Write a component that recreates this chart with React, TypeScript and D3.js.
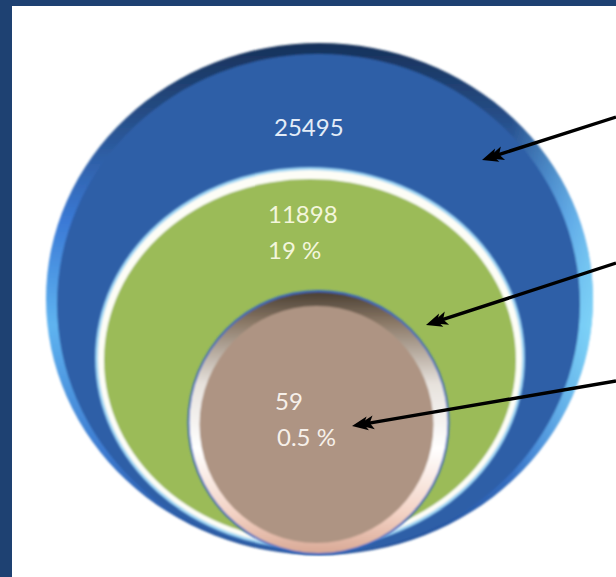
import React from 'react';
import * as d3 from 'd3';

// nested bubble values (outer -> inner)
const levels = ['outer', 'middle', 'inner'];
const counts = [25495, 11898, 59];
const shares: (number | null)[] = [null, 19, 0.5];

const W = 616;
const H = 577;
const FONT = 'Lato, "Open Sans", sans-serif';

// ellipse geometry for each level
const geo: Record<string, { cx: number; cy: number; rx: number; ry: number }> = {
  outer: { cx: 319.5, cy: 299, rx: 273.5, ry: 256 },
  middle: { cx: 310, cy: 358, rx: 212, ry: 188 },
  inner: { cx: 318.5, cy: 422.5, rx: 129, ry: 130.5 },
};

// label anchors (left x, first baseline)
const labelPos: Record<string, [number, number]> = {
  outer: [274, 136],
  middle: [268, 223],
  inner: [275, 410],
};

// callout arrows: [start, tip]
const arrows: [number, number, number, number][] = [
  [616, 117, 482, 160],
  [616, 263, 426, 325],
  [616, 381, 352, 426],
];

const fmtShare = (v: number) => `${d3.format('~g')(v)} %`;

const line = d3.line();

function Arrow({ a }: { a: [number, number, number, number] }) {
  const [x0, y0, x1, y1] = a;
  const ang = Math.atan2(y1 - y0, x1 - x0);
  const back = 10;
  const ex = x1 - Math.cos(ang) * back;
  const ey = y1 - Math.sin(ang) * back;
  const deg = (ang * 180) / Math.PI;
  return (
    <g>
      <path d={line([[x0, y0], [ex, ey]]) ?? ''} stroke="#000" strokeWidth={3.4} fill="none" />
      <g transform={`translate(${x1},${y1}) rotate(${deg})`}>
        <path d="M0,0 L-16,-7 L-12,0 L-16,7 Z" fill="#000" />
        <path d="M-6,0 L-22,-7 L-18,0 L-22,7 Z" fill="#000" />
      </g>
    </g>
  );
}

export default function App() {
  const o = geo.outer;
  const m = geo.middle;
  const n = geo.inner;
  const textFill = ['#e3ecf7', '#f3f6dc', '#f6f0ea'];

  return (
    <svg
      width={W}
      height={H}
      style={{ position: 'absolute', left: 0, top: 0, background: '#fff' }}
    >
      <defs>
        <linearGradient id="outerRim" x1="0" y1="0" x2="0" y2="1">
          <stop offset="0" stopColor="#17315a" />
          <stop offset="0.12" stopColor="#24497f" />
          <stop offset="0.35" stopColor="#3b7ad6" />
          <stop offset="0.55" stopColor="#5fb4f0" />
          <stop offset="0.8" stopColor="#3c7ad0" />
          <stop offset="1" stopColor="#1f4a92" />
        </linearGradient>
        <linearGradient id="outerSide" x1="0" y1="0" x2="1" y2="0">
          <stop offset="0" stopColor="#3f82e0" stopOpacity="0.0" />
          <stop offset="0.85" stopColor="#7fd3f7" stopOpacity="0" />
          <stop offset="1" stopColor="#8be0fa" stopOpacity="0.7" />
        </linearGradient>
        <linearGradient id="innerRim" x1="0" y1="0" x2="0" y2="1">
          <stop offset="0" stopColor="#4a3f33" />
          <stop offset="0.12" stopColor="#8c7a68" />
          <stop offset="0.35" stopColor="#e6e1dc" />
          <stop offset="0.6" stopColor="#ffffff" />
          <stop offset="0.85" stopColor="#f3d2c4" />
          <stop offset="1" stopColor="#d9a996" />
        </linearGradient>
        <filter id="soft" x="-10%" y="-10%" width="120%" height="120%">
          <feGaussianBlur stdDeviation="0.8" />
        </filter>
      </defs>

      {/* frame */}
      <rect x={0} y={0} width={W} height={H} fill="#1e4172" />
      <rect x={12} y={6} width={W - 12} height={H - 6} fill="#ffffff" />

      {/* outer bubble */}
      <g filter="url(#soft)">
        <ellipse cx={o.cx} cy={o.cy} rx={o.rx} ry={o.ry} fill="url(#outerRim)" />
        <ellipse cx={o.cx} cy={o.cy} rx={o.rx} ry={o.ry} fill="url(#outerSide)" />
        <ellipse cx={o.cx - 1} cy={o.cy + 5} rx={o.rx - 12} ry={o.ry - 6} fill="#2f5fa7" />
      </g>

      {/* middle bubble */}
      <g filter="url(#soft)">
        <ellipse cx={m.cx} cy={m.cy} rx={m.rx + 3} ry={m.ry + 3} fill="#9fd4f2" />
        <ellipse cx={m.cx} cy={m.cy} rx={m.rx} ry={m.ry} fill="#fdfdf6" />
        <ellipse cx={m.cx} cy={m.cy + 2} rx={m.rx - 6} ry={m.ry - 7} fill="#9bbb59" />
      </g>

      {/* inner bubble */}
      <g filter="url(#soft)">
        <ellipse cx={n.cx} cy={n.cy} rx={n.rx + 2} ry={n.ry + 2} fill="#3466bf" />
        <ellipse cx={n.cx} cy={n.cy} rx={n.rx} ry={n.ry} fill="url(#innerRim)" />
        <ellipse cx={n.cx - 2} cy={n.cy + 2} rx={n.rx - 12} ry={n.ry - 12} fill="#ae9483" />
      </g>

      {/* labels */}
      {levels.map((lv, i) => {
        const [lx, ly] = labelPos[lv];
        const s = shares[i];
        return (
          <text
            key={lv}
            x={lx}
            y={ly}
            fill={textFill[i]}
            fontFamily={FONT}
            fontSize={24}
          >
            {d3.format('d')(counts[i])}
            {s != null && (
              <tspan x={lx + (i === 2 ? 2 : 0)} dy={36}>
                {fmtShare(s)}
              </tspan>
            )}
          </text>
        );
      })}

      {arrows.map((a, i) => (
        <Arrow key={i} a={a} />
      ))}
    </svg>
  );
}
